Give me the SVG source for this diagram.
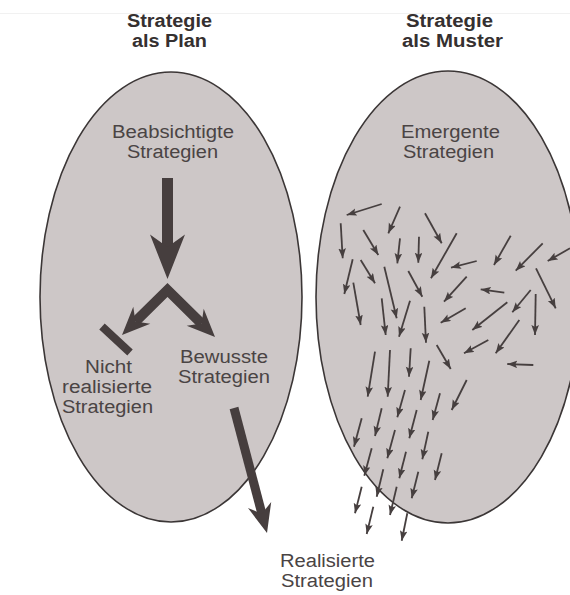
<svg xmlns="http://www.w3.org/2000/svg" width="570" height="595" viewBox="0 0 570 595">
  <defs>
    <marker id="tip" markerUnits="userSpaceOnUse" markerWidth="12" markerHeight="9" refX="10" refY="3.8" orient="auto">
      <path d="M0,0 L10,3.8 L0,7.6 L2,3.8 Z" fill="#463f3f"/>
    </marker>
  </defs>
  <style>
    .blob { fill: #cdc7c7; stroke: #3b3636; stroke-width: 1.6; }
    .title { font-family: "Liberation Sans", Arial, sans-serif; font-size: 18px; font-weight: bold; fill: #353030; text-anchor: middle; }
    .label { font-family: "Liberation Sans", Arial, sans-serif; font-size: 18px; fill: #4a4444; text-anchor: middle; }
    .heavy { fill: #463e3e; }
    .shaft { stroke: #463e3e; fill: none; stroke-linecap: butt; }
    .small line { stroke: #463f3f; stroke-width: 1.8; marker-end: url(#tip); }
  </style>

  <rect width="570" height="595" fill="#ffffff"/>
  <line x1="0" y1="13.5" x2="570" y2="13.5" stroke="#f1f1f1" stroke-width="1"/>

  <!-- column headings -->
  <g id="heading-plan">
    <text class="title" x="169.5" y="27" textLength="85" lengthAdjust="spacingAndGlyphs">Strategie</text>
    <text class="title" x="169.5" y="47" textLength="75" lengthAdjust="spacingAndGlyphs">als Plan</text>
  </g>
  <g id="heading-pattern">
    <text class="title" x="449.5" y="27" textLength="87" lengthAdjust="spacingAndGlyphs">Strategie</text>
    <text class="title" x="452.5" y="47" textLength="101" lengthAdjust="spacingAndGlyphs">als Muster</text>
  </g>

  <!-- the two strategy fields -->
  <g id="field-plan">
    <ellipse class="blob" cx="171" cy="297" rx="131" ry="225"/>
  </g>
  <g id="field-pattern">
    <ellipse class="blob" cx="448" cy="297" rx="132" ry="226"/>
  </g>

  <!-- connectors -->
  <g id="connectors">
    <!-- intended strategies flowing down -->
    <line class="shaft" x1="167.5" y1="178" x2="167.5" y2="250" stroke-width="11"/>
    <path class="heavy" d="M167.5,279 L185,234.5 L167.5,247 L150,234.5 Z"/>
    <!-- split into unrealised and deliberate -->
    <polyline class="shaft" points="135.4,321.6 167.5,290 201.6,323.6" stroke-width="10" stroke-linejoin="miter"/>
    <path class="heavy" d="M122,335 L150.3,323.7 L135.4,321.6 L133.3,306.7 Z"/>
    <path class="heavy" d="M215,337 L203.7,308.7 L201.6,323.6 L186.7,325.7 Z"/>
    <!-- dead end bar -->
    <line class="shaft" x1="102" y1="326.5" x2="130" y2="352.5" stroke-width="8"/>
    <!-- deliberate to realised -->
    <line class="shaft" x1="234" y1="408" x2="262.4" y2="515.6" stroke-width="9"/>
    <path class="heavy" d="M267,533 L271.2,501.9 L261.9,513.7 L248,508.1 Z"/>

    <!-- scattered emergent impulses -->
    <g class="small">
      <line x1="381.7" y1="204" x2="346.7" y2="215"/>
      <line x1="400" y1="206.7" x2="388.3" y2="233.3"/>
      <line x1="425" y1="213.3" x2="441.7" y2="243.3"/>
      <line x1="340.7" y1="223.3" x2="342.7" y2="258.3"/>
      <line x1="363.3" y1="230" x2="378.3" y2="255"/>
      <line x1="400" y1="238.3" x2="397.3" y2="263.3"/>
      <line x1="419" y1="236.7" x2="418.3" y2="262.7"/>
      <line x1="456.7" y1="233.3" x2="431" y2="278.3"/>
      <line x1="510.7" y1="235.7" x2="494" y2="265"/>
      <line x1="542.7" y1="243.3" x2="515.7" y2="270.7"/>
      <line x1="570" y1="248.3" x2="547.7" y2="261"/>
      <line x1="476.7" y1="261" x2="451" y2="267.7"/>
      <line x1="352.7" y1="259.3" x2="344.3" y2="294"/>
      <line x1="360.7" y1="260" x2="375" y2="283.3"/>
      <line x1="384.3" y1="266.7" x2="396.7" y2="318.3"/>
      <line x1="408.3" y1="271" x2="422.3" y2="296.7"/>
      <line x1="466.7" y1="276.7" x2="444" y2="301.7"/>
      <line x1="504.3" y1="292.7" x2="480.7" y2="289.3"/>
      <line x1="536" y1="268.3" x2="555.7" y2="308.3"/>
      <line x1="353.3" y1="282.7" x2="360.7" y2="325"/>
      <line x1="381.7" y1="298.3" x2="385.7" y2="335"/>
      <line x1="410" y1="300.7" x2="399" y2="336.7"/>
      <line x1="424.3" y1="306.7" x2="426" y2="342.7"/>
      <line x1="465.7" y1="308.3" x2="440.7" y2="322.7"/>
      <line x1="507.3" y1="302.3" x2="472.3" y2="330"/>
      <line x1="530.7" y1="290" x2="512.3" y2="312.3"/>
      <line x1="535.7" y1="294" x2="535" y2="335"/>
      <line x1="519.3" y1="320" x2="495.7" y2="353.3"/>
      <line x1="488.3" y1="340" x2="464" y2="353.3"/>
      <line x1="436.7" y1="345" x2="450.7" y2="369"/>
      <line x1="533.3" y1="365" x2="507.3" y2="364"/>
      <line x1="375" y1="351.7" x2="367.7" y2="396.7"/>
      <line x1="390" y1="350" x2="387.7" y2="396.7"/>
      <line x1="410.7" y1="348.3" x2="409" y2="376.7"/>
      <line x1="429.3" y1="360.7" x2="420.7" y2="400"/>
      <line x1="466.7" y1="380" x2="451.7" y2="410"/>
      <line x1="405" y1="390" x2="397.3" y2="417.3"/>
      <line x1="440" y1="393.3" x2="432.7" y2="420"/>
      <line x1="361.7" y1="418.3" x2="354" y2="446.7"/>
      <line x1="381.7" y1="408.3" x2="375" y2="436"/>
      <line x1="416.7" y1="410" x2="409.3" y2="438.3"/>
      <line x1="395" y1="430" x2="387.3" y2="458.3"/>
      <line x1="428.3" y1="431.7" x2="422.3" y2="459.3"/>
      <line x1="371.7" y1="448.3" x2="364.3" y2="475.7"/>
      <line x1="406" y1="451.7" x2="399.3" y2="478.3"/>
      <line x1="441.7" y1="453.3" x2="435" y2="480"/>
      <line x1="383.3" y1="469.3" x2="376.7" y2="496.7"/>
      <line x1="418.3" y1="471.7" x2="411.7" y2="498.3"/>
      <line x1="361.7" y1="486.7" x2="355" y2="513.3"/>
      <line x1="396.7" y1="486.7" x2="390" y2="515"/>
      <line x1="373.3" y1="506.7" x2="366.7" y2="534"/>
      <line x1="407.3" y1="513.3" x2="401.7" y2="540.7"/>
    </g>
  </g>

  <!-- labels -->
  <g id="intended">
    <text class="label" x="173" y="138" textLength="122" lengthAdjust="spacingAndGlyphs">Beabsichtigte</text>
    <text class="label" x="172.5" y="158" textLength="91" lengthAdjust="spacingAndGlyphs">Strategien</text>
  </g>
  <g id="emergent">
    <text class="label" x="450.5" y="138" textLength="99" lengthAdjust="spacingAndGlyphs">Emergente</text>
    <text class="label" x="448.5" y="158" textLength="91" lengthAdjust="spacingAndGlyphs">Strategien</text>
  </g>
  <g id="unrealised">
    <text class="label" x="108.5" y="373" textLength="47" lengthAdjust="spacingAndGlyphs">Nicht</text>
    <text class="label" x="107" y="393" textLength="90" lengthAdjust="spacingAndGlyphs">realisierte</text>
    <text class="label" x="107.5" y="413" textLength="91" lengthAdjust="spacingAndGlyphs">Strategien</text>
  </g>
  <g id="deliberate">
    <text class="label" x="224" y="363" textLength="88" lengthAdjust="spacingAndGlyphs">Bewusste</text>
    <text class="label" x="224" y="383" textLength="92" lengthAdjust="spacingAndGlyphs">Strategien</text>
  </g>
  <g id="realised">
    <text class="label" x="327.5" y="567" textLength="95" lengthAdjust="spacingAndGlyphs">Realisierte</text>
    <text class="label" x="327" y="587" textLength="92" lengthAdjust="spacingAndGlyphs">Strategien</text>
  </g>
</svg>
